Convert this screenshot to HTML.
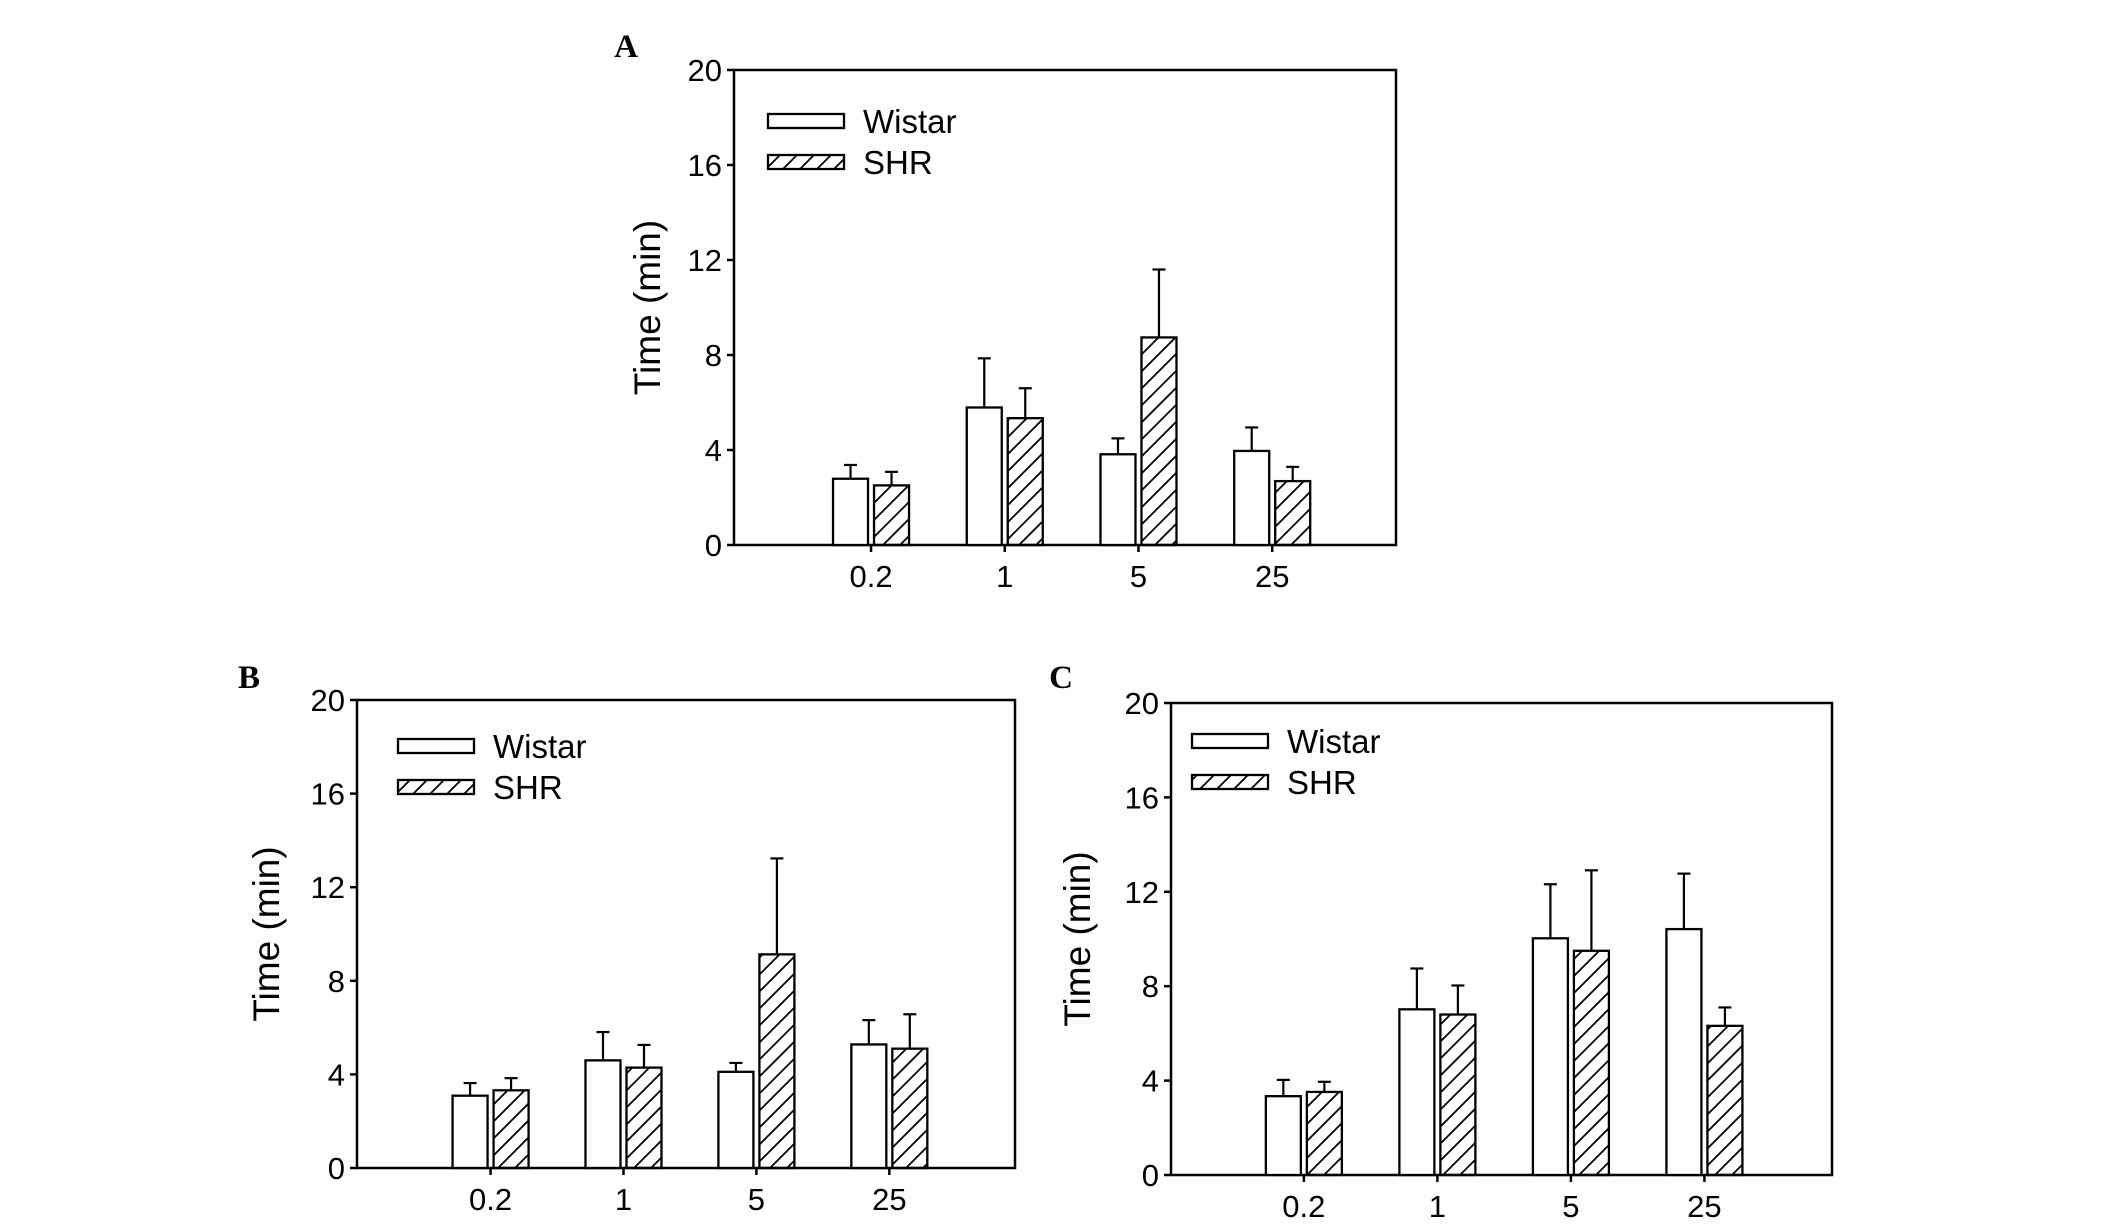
<!DOCTYPE html>
<html><head><meta charset="utf-8"><style>
html,body{margin:0;padding:0;background:#fff;}
svg{display:block;}
text{font-family:"Liberation Sans",Arial,sans-serif;fill:#000;}
.pl{font-family:"Liberation Serif",serif;font-weight:bold;font-size:33px;}
</style></head><body>
<svg id="fig" width="2126" height="1231" viewBox="0 0 2126 1231" xmlns="http://www.w3.org/2000/svg">
<defs>
<pattern id="hatch" patternUnits="userSpaceOnUse" width="17" height="17">
<path d="M-2,19 L19,-2 M-2,2 L2,-2 M15,19 L19,15" stroke="#000" stroke-width="1.8"/>
</pattern>
</defs>
</svg>
<script>
const categories = ["0.2","1","5","25"];
const yTicks = [0,4,8,12,16,20];
const seriesNames = ["Wistar","SHR"];
const aWistar = [2.79,5.79,3.82,3.96];
const aWistarErr = [3.37,7.86,4.49,4.95];
const aSHR = [2.51,5.34,8.74,2.69];
const aSHRErr = [3.08,6.6,11.6,3.29];
const bWistar = [3.09,4.6,4.11,5.28];
const bWistarErr = [3.63,5.81,4.49,6.32];
const bSHR = [3.32,4.29,9.13,5.1];
const bSHRErr = [3.84,5.26,13.23,6.57];
const cWistar = [3.34,7.02,10.03,10.42];
const cWistarErr = [4.03,8.75,12.32,12.77];
const cSHR = [3.52,6.8,9.5,6.32];
const cSHRErr = [3.95,8.03,12.91,7.1];

const svg = document.getElementById('fig');
const NS = 'http://www.w3.org/2000/svg';
function mk(tag, attrs, parent){
  const e = document.createElementNS(NS, tag);
  for (const k in attrs) e.setAttribute(k, attrs[k]);
  (parent||svg).appendChild(e);
  return e;
}
function panel(id, label, L, T, R, B, x0, labelPos, legend, titleX, w, wErr, s, sErr){
  const g = mk('g', {});
  
  
  const yScale = v => B - (v/20)*(B-T);
  const xScale = i => L + (x0 + i*0.202)*(R-L);
  const pl = mk('text', {x:labelPos[0], y:labelPos[1], class:'pl', 'text-anchor':'middle'}, g);
  pl.textContent = label;
  
  
  const frame = mk('rect', {x:L, y:T, width:R-L, height:B-T, fill:'none', stroke:'#000', 'stroke-width':2.5}, g);
  
  
  yTicks.forEach(t => {
    const y = yScale(t);
    const tk = mk('line', {x1:L-7, x2:L, y1:y, y2:y, stroke:'#000', 'stroke-width':2.5}, g);
    
    
    const tl = mk('text', {x:L-12, y:y+11, 'font-size':31, 'text-anchor':'end'}, g);
    tl.textContent = t;
    
    
  });
  const yt = mk('text', {x:0, y:0, 'font-size':37, 'text-anchor':'middle', transform:'translate('+(titleX+13)+','+((T+B)/2+0)+') rotate(-90)'}, g);
  yt.textContent = 'Time (min)';
  
  
  categories.forEach((c, i) => {
    const cx = xScale(i);
    const tk = mk('line', {x1:cx, x2:cx, y1:B, y2:B+7, stroke:'#000', 'stroke-width':2.5}, g);
    
    
    const tl = mk('text', {x:cx, y:B+42, 'font-size':31, 'text-anchor':'middle'}, g);
    tl.textContent = c;
    
    
    [[w, wErr, cx-38, 'white', 'wistar'], [s, sErr, cx+3, 'url(#hatch)', 'shr']].forEach(([vals, errs, x, fill, nm]) => {
      const yv = yScale(vals[i]), ye = yScale(errs[i]);
      const eb = mk('line', {x1:x+17.5, x2:x+17.5, y1:yv, y2:ye, stroke:'#000', 'stroke-width':2.2}, g);
      
      
      const cap = mk('line', {x1:x+11, x2:x+24, y1:ye, y2:ye, stroke:'#000', 'stroke-width':2.2}, g);
      
      
      const bar = mk('rect', {x:x, y:yv, width:35, height:B-yv, fill:fill, stroke:'#000', 'stroke-width':2.3}, g);
      
      
    });
  });
  seriesNames.forEach((n, k) => {
    const by = legend[1] + k*41;
    const lb = mk('rect', {x:legend[0], y:by, width:76, height:14, fill: k ? 'url(#hatch)' : 'white', stroke:'#000', 'stroke-width':2.3}, g);
    
    
    const lt = mk('text', {x:legend[0]+95, y:by+19, 'font-size':33}, g);
    lt.textContent = n;
    
    
  });
}
panel('a', 'A', 734, 70, 1396, 545, 0.207, [626, 57], [768, 114], 647, aWistar, aWistarErr, aSHR, aSHRErr);
panel('b', 'B', 357, 700, 1015, 1168, 0.203, [249, 688], [398, 739], 266, bWistar, bWistarErr, bSHR, bSHRErr);
panel('c', 'C', 1171, 703, 1832, 1175, 0.201, [1061, 688], [1192, 734], 1077, cWistar, cWistarErr, cSHR, cSHRErr);
</script>
</body></html>
